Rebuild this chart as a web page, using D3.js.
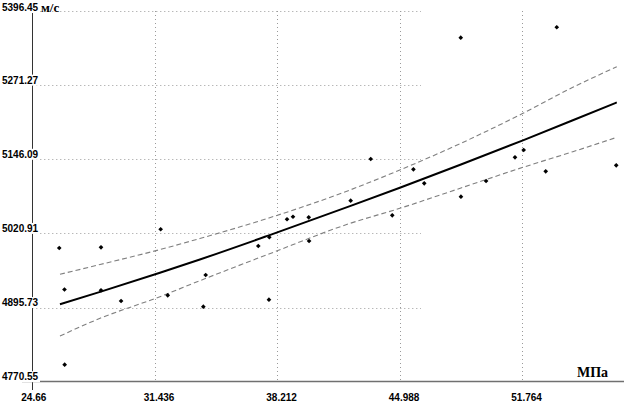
<!DOCTYPE html>
<html><head><meta charset="utf-8">
<script src="https://cdn.jsdelivr.net/npm/d3@7"></script>
<style>html,body{margin:0;padding:0;background:#fff;}svg{display:block;}</style>
</head><body>
<script>
const xTicks = [24.66, 31.436, 38.212, 44.988, 51.764];
const yTicks = [4770.55, 4895.73, 5020.91, 5146.09, 5271.27, 5396.45];
const xTickLabels = ["24.66", "31.436", "38.212", "44.988", "51.764"];
const yTickLabels = ["4770.55", "4895.73", "5020.91", "5146.09", "5271.27", "5396.45"];
const yUnit = "м/с";
const xUnit = "МПа";

// observed points (pressure, velocity)
const pointsX = [26.15, 26.44, 26.45, 28.46, 28.46, 29.57, 31.76, 32.15, 34.12, 34.25,
  37.16, 37.77, 37.75, 38.75, 39.08, 39.95, 39.97, 42.27, 43.38, 44.57,
  45.74, 46.34, 48.36, 48.37, 49.76, 51.36, 51.84, 53.06, 53.67, 56.96];
const pointsY = [4996.3, 4926.2, 4799.3, 4997.5, 4924.9, 4906.8, 5027.9, 4916.4, 4897.2, 4950.7,
  4999.7, 5014.4, 4909.0, 5044.8, 5049.1, 5048.1, 5008.1, 5076.2, 5146.6, 5051.5,
  5129.2, 5105.5, 5351.4, 5082.9, 5109.4, 5149.4, 5161.8, 5125.8, 5369.0, 5135.9];

// fitted curve and confidence band
const curveX = [26.19, 28.41, 31.72, 33.93, 37.75, 42.23, 44.99, 48.37, 51.80, 54.56, 56.99];
const fitY = [4901.2, 4922.2, 4954.6, 4976.9, 5017.6, 5066.9, 5098.1, 5137.3, 5178.1, 5211.9, 5242.1];
const upperY = [4951.9, 4968.4, 4993.6, 5012.3, 5047.0, 5094.2, 5128.0, 5173.1, 5223.7, 5267.6, 5302.4];
const lowerY = [4847.7, 4877.6, 4914.1, 4941.1, 4986.2, 5037.8, 5063.3, 5097.6, 5132.5, 5158.9, 5183.2];

const W = 624, H = 405;
const svg = d3.select("body").append("svg").attr("width", W).attr("height", H);
svg.append("rect").attr("width", W).attr("height", H).attr("fill", "#fff");

const x = d3.scaleLinear().domain([24.66, 51.764]).range([32.3, 522.3]);
const y = d3.scaleLinear().domain([4770.55, 5396.45]).range([381.7, 11]);

const grid = svg.append("g").attr("stroke", "#9a9a9a").attr("stroke-width", 1).attr("stroke-dasharray", "1,3");
grid.selectAll("line.h").data(yTicks.slice(1)).join("line")
  .attr("x1", x(24.66)).attr("x2", 421)
  .attr("y1", d => Math.round(y(d)) + 0.5).attr("y2", d => Math.round(y(d)) + 0.5);
grid.selectAll("line.v").data(xTicks.slice(1)).join("line")
  .attr("x1", d => Math.round(x(d)) + 0.5).attr("x2", d => Math.round(x(d)) + 0.5)
  .attr("y1", y(5396.45)).attr("y2", y(4770.55));

svg.append("line").attr("x1", 22).attr("x2", W).attr("y1", 381.5).attr("y2", 381.5)
  .attr("stroke", "#707070").attr("stroke-width", 1.5);
svg.append("line").attr("x1", 32.5).attr("x2", 32.5).attr("y1", 13).attr("y2", 390)
  .attr("stroke", "#333").attr("stroke-width", 1);

const lineGen = (xs, ys) => d3.line().x((d, i) => x(xs[i])).y(d => y(d)).curve(d3.curveMonotoneX)(ys);
svg.append("path").attr("d", lineGen(curveX, upperY)).attr("fill", "none")
  .attr("stroke", "#808080").attr("stroke-width", 1.1).attr("stroke-dasharray", "5,3");
svg.append("path").attr("d", lineGen(curveX, lowerY)).attr("fill", "none")
  .attr("stroke", "#808080").attr("stroke-width", 1.1).attr("stroke-dasharray", "5,3");
svg.append("path").attr("d", lineGen(curveX, fitY)).attr("fill", "none")
  .attr("stroke", "#000").attr("stroke-width", 2);

const sym = d3.symbol().type(d3.symbolDiamond2).size(14);
svg.append("g").selectAll("path").data(pointsX).join("path")
  .attr("d", sym)
  .attr("transform", (d, i) => `translate(${x(d)},${y(pointsY[i])})`)
  .attr("fill", "#000");

const yl = svg.append("g");
yTicks.forEach((t, i) => {
  const cy = Math.max(7, y(t) - 5);
  yl.append("rect").attr("x", 1).attr("y", cy - 5.5).attr("width", 39).attr("height", 11).attr("fill", "#fff");
  yl.append("text").attr("x", 2).attr("y", cy).attr("dy", "0.36em")
    .attr("font-family", "Liberation Sans, Arial, sans-serif").attr("font-weight", "bold")
    .attr("font-size", 10).attr("fill", "#000").text(yTickLabels[i]);
});
svg.append("g").selectAll("text").data(xTicks).join("text")
  .attr("x", d => x(d) - 11).attr("y", 401)
  .attr("font-family", "Liberation Sans, Arial, sans-serif").attr("font-weight", "bold")
  .attr("font-size", 10).attr("fill", "#000").text((d, i) => xTickLabels[i]);

svg.append("text").attr("x", 41).attr("y", 11.5)
  .attr("font-family", "Liberation Serif, Times New Roman, serif").attr("font-weight", "bold")
  .attr("font-size", 13).attr("fill", "#000").text(yUnit);
svg.append("text").attr("x", 577).attr("y", 376.5)
  .attr("font-family", "Liberation Serif, Times New Roman, serif").attr("font-weight", "bold")
  .attr("font-size", 14).attr("fill", "#000").text(xUnit);
</script>
</body></html>
